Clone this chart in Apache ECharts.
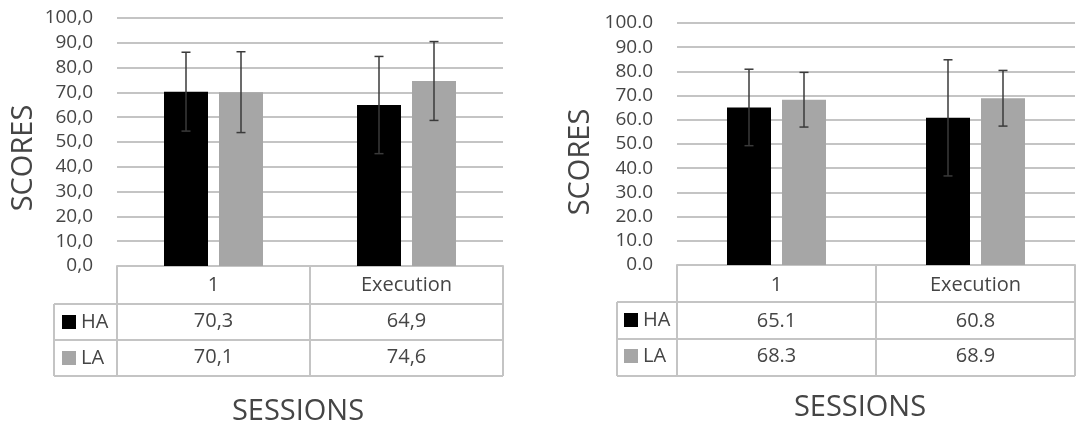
<!DOCTYPE html>
<html>
<head>
<meta charset="utf-8">
<script src="https://cdn.jsdelivr.net/npm/echarts@6/dist/echarts.min.js"></script>
<style>
html,body{margin:0;padding:0;background:#fff;}
#c{width:1092px;height:430px;}
</style>
</head>
<body>
<div id="c"></div>
<script>
// ---- data ----
const categories = ['1', 'Execution'];
const seriesNames = ['HA', 'LA'];
const leftHA = [70.3, 64.9];
const leftLA = [70.1, 74.6];
const leftHA_sd = [15.9, 19.6];
const leftLA_sd = [16.3, 15.9];
const rightHA = [65.1, 60.8];
const rightLA = [68.3, 68.9];
const rightHA_sd = [15.8, 24.0];
const rightLA_sd = [11.3, 11.5];
const yTicks = [0, 10, 20, 30, 40, 50, 60, 70, 80, 90, 100];

// ---- style ----
const TEXT = '#454545';
const GRID_LINE = '#c4c4c4';
const TABLE_LINE = '#c4c4c4';
const COLORS = ['#000000', '#a6a6a6'];
const FONT = '"Open Sans", sans-serif';
const BAR_W = 44;

const panels = [
  { left: 117, top: 18, width: 386, height: 248, dec: ',', ha: leftHA, la: leftLA, haSd: leftHA_sd, laSd: leftLA_sd,
    rows: [304, 340, 376], legendX: 54, legendIcon: 62, mHead: 19, mHA: 55, mLA: 91,
    scores: [24, 158], sessions: [298, 412] },
  { left: 677, top: 23, width: 398, height: 242, dec: '.', ha: rightHA, la: rightLA, haSd: rightHA_sd, laSd: rightLA_sd,
    rows: [302, 339, 376], legendX: 617, legendIcon: 624, mHead: 20, mHA: 56, mLA: 91.5,
    scores: [581, 162], sessions: [860, 408] }
];

function fmt(v, dec) { return v.toFixed(1).replace('.', dec); }

const option = {
  animation: false,
  backgroundColor: '#fff',
  textStyle: { fontFamily: FONT },
  grid: [], xAxis: [], yAxis: [], series: [], legend: [], graphic: []
};

panels.forEach((p, gi) => {
  const bottom = p.top + p.height;
  option.grid.push({ left: p.left, top: p.top, width: p.width, height: p.height, containLabel: false });
  option.yAxis.push({
    type: 'value', gridIndex: gi, min: yTicks[0], max: yTicks[yTicks.length - 1], interval: 10,
    axisLine: { show: false }, axisTick: { show: false },
    splitLine: { show: true, lineStyle: { color: GRID_LINE, width: 2 } },
    axisLabel: { margin: 24, fontSize: 19, color: TEXT, fontFamily: FONT, formatter: v => fmt(v, p.dec) }
  });
  const xb = gi * 3;
  // header row axis (also draws table frame lines)
  option.xAxis.push({
    type: 'category', gridIndex: gi, data: categories, position: 'bottom',
    axisLine: { show: true, lineStyle: { color: TABLE_LINE, width: 2 } },
    axisTick: { show: true, length: 376 - bottom, lineStyle: { color: TABLE_LINE, width: 2 } },
    axisLabel: { margin: p.mHead, fontSize: 20, color: TEXT, fontFamily: FONT, verticalAlign: 'middle' },
    splitLine: { show: false }
  });
  // HA row values
  option.xAxis.push({
    type: 'category', gridIndex: gi, data: p.ha.map(v => fmt(v, p.dec)), position: 'bottom',
    axisLine: { show: false }, axisTick: { show: false }, splitLine: { show: false },
    axisLabel: { margin: p.mHA, fontSize: 20, color: TEXT, fontFamily: FONT, verticalAlign: 'middle' }
  });
  // LA row values
  option.xAxis.push({
    type: 'category', gridIndex: gi, data: p.la.map(v => fmt(v, p.dec)), position: 'bottom',
    axisLine: { show: false }, axisTick: { show: false }, splitLine: { show: false },
    axisLabel: { margin: p.mLA, fontSize: 20, color: TEXT, fontFamily: FONT, verticalAlign: 'middle' }
  });

  [[p.ha, p.haSd], [p.la, p.laSd]].forEach((arr, si) => {
    option.series.push({
      name: seriesNames[si], type: 'bar', xAxisIndex: xb, yAxisIndex: gi,
      data: arr[0], barWidth: BAR_W, barGap: '25%',
      itemStyle: { color: COLORS[si] }
    });
  });
  [[p.ha, p.haSd], [p.la, p.laSd]].forEach((arr, si) => {
    const dir = si === 0 ? -1 : 1;
    option.series.push({
      name: seriesNames[si] + ' error', type: 'custom', xAxisIndex: xb, yAxisIndex: gi, z: 5,
      data: arr[0].map((m, i) => [i, m - arr[1][i], m + arr[1][i]]),
      renderItem: function (params, api) {
        const lo = api.coord([api.value(0), api.value(1)]);
        const hi = api.coord([api.value(0), api.value(2)]);
        const x = lo[0] + dir * BAR_W * 1.25 / 2;
        const cap = 4.5;
        const st = { stroke: '#3a3a3a', lineWidth: 1.5 };
        return { type: 'group', children: [
          { type: 'line', shape: { x1: x, y1: hi[1], x2: x, y2: lo[1] }, style: st },
          { type: 'line', shape: { x1: x - cap, y1: hi[1], x2: x + cap, y2: hi[1] }, style: st },
          { type: 'line', shape: { x1: x - cap, y1: lo[1], x2: x + cap, y2: lo[1] }, style: st }
        ]};
      },
      silent: true
    });
  });

  option.legend.push({
    data: seriesNames, orient: 'vertical', left: p.legendIcon, top: p.rows[0] + 8,
    icon: 'rect', itemWidth: 14, itemHeight: 14, itemGap: 16, padding: 0,
    textStyle: { fontSize: 20, color: TEXT, fontFamily: FONT, lineHeight: 20 },
    selectedMode: false
  });

  // table frame lines (legend column + row separators)
  const right = p.left + p.width;
  p.rows.forEach(y => {
    option.graphic.push({ type: 'line', shape: { x1: p.legendX, y1: y, x2: right, y2: y },
      style: { stroke: TABLE_LINE, lineWidth: 2 }, silent: true });
  });
  option.graphic.push({ type: 'line', shape: { x1: p.legendX, y1: p.rows[0], x2: p.legendX, y2: p.rows[2] },
    style: { stroke: TABLE_LINE, lineWidth: 2 }, silent: true });

  // axis titles
  option.graphic.push({ type: 'text', x: p.scores[0], y: p.scores[1], rotation: Math.PI / 2,
    style: { text: 'SCORES', font: '29px ' + FONT, fill: TEXT, align: 'center', verticalAlign: 'middle' } });
  option.graphic.push({ type: 'text', x: p.sessions[0], y: p.sessions[1],
    style: { text: 'SESSIONS', font: '29px ' + FONT, fill: TEXT, align: 'center', verticalAlign: 'middle' } });
});

const chart = echarts.init(document.getElementById('c'), null, { renderer: 'canvas' });
chart.setOption(option);
</script>
</body>
</html>
